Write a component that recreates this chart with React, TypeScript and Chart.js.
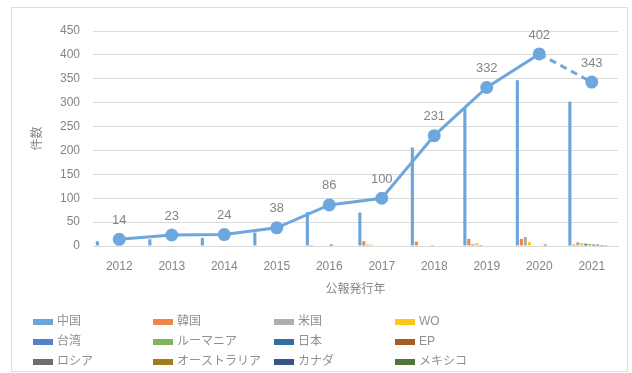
import React, { useEffect, useRef } from "react";
import { Chart, registerables } from "chart.js";

Chart.register(...registerables);

// 公報発行年
const years = ["2012", "2013", "2014", "2015", "2016", "2017", "2018", "2019", "2020", "2021"];

// 合計件数（折れ線）
const totals = [14, 23, 24, 38, 86, 100, 231, 332, 402, 343];

// 出願国別件数（棒）
const china = [10, 14, 17, 28, 71, 70, 206, 289, 347, 302];
const korea = [0, 0, 0, 0, 2, 10, 9, 15, 15, 3];
const usa = [0, 0, 0, 1, 0, 3, 1, 4, 19, 8];
const wo = [0, 0, 0, 0, 0, 3, 0, 6, 8, 6];
const taiwan = [0, 0, 0, 0, 0, 0, 0, 2, 0, 5];
const romania = [0, 0, 0, 1, 0, 0, 2, 1, 0, 4];
const japan = [0, 0, 0, 0, 3, 0, 0, 0, 0, 3];
const ep = [0, 0, 0, 0, 0, 0, 0, 0, 3, 3];
const russia = [0, 0, 0, 0, 0, 0, 0, 0, 0, 2];
const australia = [0, 0, 0, 0, 0, 0, 0, 0, 0, 2];
const canada = [0, 0, 0, 0, 1, 0, 0, 0, 0, 0];
const mexico = [0, 0, 0, 0, 0, 0, 0, 0, 0, 1];

const countryNames = ["中国", "韓国", "米国", "WO", "台湾", "ルーマニア", "日本", "EP", "ロシア", "オーストラリア", "カナダ", "メキシコ"];
const countryValues = [china, korea, usa, wo, taiwan, romania, japan, ep, russia, australia, canada, mexico];
const countryColors = [
  "#6aa5dc", "#ef8744", "#adadad", "#ffc61a",
  "#5580c8", "#7db75a", "#356d9e", "#a85a24",
  "#6e6e6e", "#a07d1a", "#36538a", "#4f7538",
];

const FONT = "'Liberation Sans', 'Noto Sans CJK JP', sans-serif";
const TEXT = "#858585";
const LEGEND_TEXT = "#909090";
const GRID = "#dadada";

const framePlugin = {
  id: "frame",
  beforeDraw(chart: any) {
    const { ctx } = chart;
    ctx.save();
    ctx.fillStyle = "#ffffff";
    ctx.fillRect(0, 0, chart.width, chart.height);
    ctx.strokeStyle = "#dedede";
    ctx.lineWidth = 1;
    ctx.strokeRect(11.5, 7.5, 616, 364);
    ctx.restore();
  },
};

const valueLabelPlugin = {
  id: "valueLabels",
  afterDatasetsDraw(chart: any) {
    const { ctx } = chart;
    chart.data.datasets.forEach((ds: any, i: number) => {
      if (ds.type !== "line") return;
      const meta = chart.getDatasetMeta(i);
      ctx.save();
      ctx.fillStyle = TEXT;
      ctx.font = `13px ${FONT}`;
      ctx.textAlign = "center";
      ctx.textBaseline = "middle";
      meta.data.forEach((pt: any, j: number) => {
        ctx.fillText(String(ds.data[j]), pt.x, pt.y - 19);
      });
      ctx.restore();
    });
  },
};

const gridLegendPlugin = {
  id: "gridLegend",
  afterDraw(chart: any) {
    const { ctx } = chart;
    const colX = [33, 153, 274, 395];
    const rowY = [322, 342, 362];
    ctx.save();
    ctx.font = `12px ${FONT}`;
    ctx.textBaseline = "middle";
    ctx.textAlign = "left";
    chart.data.datasets.forEach((ds: any, i: number) => {
      if (ds.type === "line") return;
      const x = colX[i % 4];
      const y = rowY[Math.floor(i / 4)];
      ctx.fillStyle = ds.backgroundColor;
      ctx.fillRect(x, y - 3, 20, 6);
      ctx.fillStyle = LEGEND_TEXT;
      ctx.fillText(ds.label, x + 24, y);
    });
    ctx.restore();
  },
};

export default function App() {
  const canvasRef = useRef<HTMLCanvasElement | null>(null);

  useEffect(() => {
    if (!canvasRef.current) return;
    const barSets = countryNames.map((name, i) => ({
      type: "bar" as const,
      label: name,
      data: countryValues[i],
      backgroundColor: countryColors[i],
      borderWidth: 0,
      categoryPercentage: 0.91,
      barPercentage: 0.78,
      order: 1,
    }));
    const chart = new Chart(canvasRef.current, {
      type: "bar",
      data: {
        labels: years,
        datasets: [
          ...barSets,
          {
            type: "line" as const,
            label: "合計",
            data: totals,
            borderColor: "#6ea7dd",
            backgroundColor: "#6ea7dd",
            borderWidth: 3,
            pointRadius: 6.5,
            pointHoverRadius: 6.5,
            pointBackgroundColor: "#6ea7dd",
            pointBorderWidth: 0,
            tension: 0,
            order: 0,
            segment: {
              borderDash: (c: any) => (c.p0DataIndex === 8 ? [7, 5] : undefined),
            },
          } as any,
        ],
      },
      options: {
        responsive: false,
        animation: false,
        layout: { padding: { left: 0, right: 14, top: 31, bottom: 75 } },
        plugins: {
          legend: { display: false },
          tooltip: { enabled: false },
        },
        scales: {
          x: {
            grid: { display: false, drawTicks: false },
            border: { display: true, color: GRID },
            ticks: { color: TEXT, font: { size: 12, family: FONT }, padding: 13 },
            title: {
              display: true,
              text: "公報発行年",
              color: TEXT,
              font: { size: 12, family: FONT },
              padding: { top: 4, bottom: 1 },
            },
            afterFit: (s: any) => {
              s.height = 52;
            },
          },
          y: {
            min: 0,
            max: 450,
            ticks: { stepSize: 50, color: TEXT, font: { size: 12, family: FONT }, padding: 13 },
            grid: { color: GRID, drawTicks: false },
            border: { display: false },
            title: {
              display: true,
              text: "件数",
              color: TEXT,
              font: { size: 12, family: FONT },
              padding: { top: 30, bottom: 0 },
            },
            afterFit: (s: any) => {
              s.width = 93;
            },
          },
        },
      },
      plugins: [framePlugin, valueLabelPlugin, gridLegendPlugin],
    });
    return () => chart.destroy();
  }, []);

  return (
    <div style={{ position: "absolute", left: 0, top: 0, width: 632, height: 373 }}>
      <canvas ref={canvasRef} width={632} height={373} />
    </div>
  );
}
